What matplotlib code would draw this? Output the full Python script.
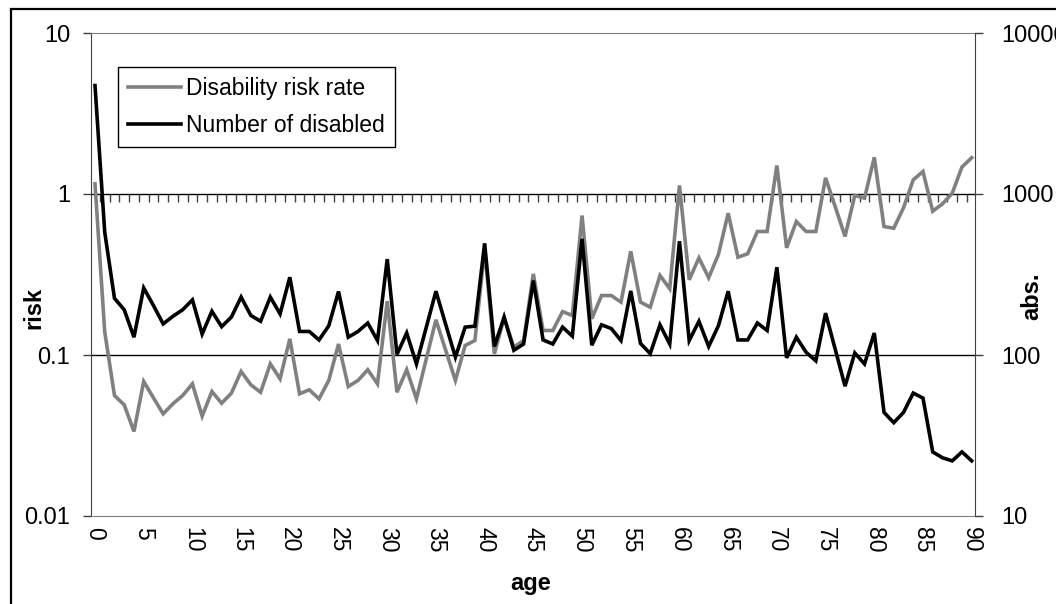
import numpy as np
import matplotlib.pyplot as plt
from matplotlib.patches import Rectangle

plt.rcParams['font.family'] = ['Liberation Sans', 'DejaVu Sans']

# Age 0..90
age = np.arange(0, 91)

# Disability risk rate (left axis)
risk = np.array([1.157, 0.139, 0.056, 0.049, 0.0335, 0.0685, 0.0542, 0.0431, 0.0498, 0.056,
                 0.0662, 0.0417, 0.0593, 0.0502, 0.0579, 0.079, 0.0653, 0.0587, 0.0882, 0.0711,
                 0.126, 0.0574, 0.0608, 0.0534, 0.0695, 0.117, 0.0637, 0.0695, 0.081, 0.0662,
                 0.216, 0.0587, 0.081, 0.0534, 0.094, 0.1655, 0.107, 0.0695, 0.1146, 0.123,
                 0.45, 0.1017, 0.17, 0.112, 0.123, 0.319, 0.142, 0.142, 0.186, 0.176,
                 0.735, 0.168, 0.234, 0.234, 0.213, 0.441, 0.213, 0.198, 0.312, 0.258,
                 1.13, 0.293, 0.401, 0.302, 0.421, 0.760, 0.405, 0.425, 0.585, 0.585,
                 1.503, 0.463, 0.675, 0.585, 0.585, 1.26, 0.83, 0.545, 0.98, 0.942,
                 1.69, 0.628, 0.613, 0.821, 1.225, 1.38, 0.782, 0.869, 1.01, 1.47,
                 1.68])

# Number of disabled (right axis, absolute)
n_disabled = np.array([4720, 579, 225, 191, 129, 261, 203, 156, 174, 191,
                       220, 135, 187, 150, 172, 229, 176, 162, 229, 180,
                       304, 140, 140, 124, 152, 248, 129, 140, 158, 123,
                       394, 101, 137, 88, 148, 249, 155, 97, 149, 151,
                       494, 113, 172, 107, 117, 290, 124, 117, 149, 131,
                       527, 115, 154, 146, 123, 250, 118, 102, 154, 117,
                       509, 123, 162, 113, 152, 249, 124, 124, 158, 142,
                       351, 96, 129, 104, 92, 182, 108, 64, 103, 88,
                       137, 44, 38, 44, 58, 54, 25, 23, 22, 25,
                       22])

xticks = np.arange(0, 91, 5)

W, H = 1056, 604
fig = plt.figure(figsize=(W / 100, H / 100), dpi=100)

# chart border (runs off the right/bottom edge)
fig.patches.append(Rectangle((11 / W, -0.1), 1.2, 1 - 9 / H + 0.1, transform=fig.transFigure,
                             fill=False, edgecolor='black', lw=1.6))

ax = fig.add_axes([91 / W, 1 - 516 / H, (975 - 91) / W, (516 - 33) / H])
ax2 = ax.twinx()

l1, = ax.plot(age, risk, color='#808080', lw=2.6, solid_joinstyle='miter', zorder=3,
              label='Disability risk rate')
l2, = ax2.plot(age, n_disabled, color='black', lw=2.6, solid_joinstyle='miter', zorder=3,
               label='Number of disabled')

ax.set_yscale('log')
ax.set_ylim(0.01, 10)
ax2.set_yscale('log')
ax2.set_ylim(10, 10000)
ax.set_xlim(-0.41, 90.34)

# gridlines; the one at 1 carries the category ticks
ax.axhline(1, color='black', lw=1, zorder=1)
ax.axhline(0.1, color='black', lw=1, zorder=1)
ax.plot(age[:-1] + 0.5, np.ones(len(age) - 1), ls='none', marker=3, ms=5.5, mew=1,
        color='#404040', zorder=1)

ax.set_xticks(xticks)
ax.set_xticklabels([str(t) for t in xticks], rotation=-90)
ax.tick_params(axis='x', length=0, pad=8, labelsize=16.5)
ax.minorticks_off()
ax2.minorticks_off()
ax.set_yticks([0.01, 0.1, 1, 10])
ax.set_yticklabels(['0.01', '0.1', '1', '10'])
ax2.set_yticks([10, 100, 1000, 10000])
ax2.set_yticklabels(['10', '100', '1000', '10000'])
ax.tick_params(axis='y', length=6, width=1, color='#404040', pad=9, labelsize=17)
ax2.tick_params(axis='y', length=6, width=1, color='#404040', pad=13, labelsize=17)

for s in ['top', 'bottom']:
    ax.spines[s].set_color('#808080')
    ax2.spines[s].set_visible(False)
ax.spines['left'].set_color('#404040')
ax.spines['right'].set_visible(False)
ax2.spines['left'].set_visible(False)
ax2.spines['right'].set_color('#404040')

ax.set_xlabel('age', fontsize=17, fontweight='bold')
ax.set_ylabel('risk', fontsize=17, fontweight='bold')
ax2.set_ylabel('abs.', fontsize=17, fontweight='bold')
ax.xaxis.set_label_coords(0.497, -0.116)
ax.yaxis.set_label_coords(-0.052, 0.43)
ax2.yaxis.set_label_coords(1.051, 0.455)

leg = ax2.legend(handles=[l1, l2], loc='upper left', bbox_to_anchor=(118 / W, 1 - 67 / H),
                 bbox_transform=fig.transFigure, borderaxespad=0, fontsize=16.5,
                 handlelength=2.3, handletextpad=0.2, labelspacing=0.6, borderpad=0.45,
                 fancybox=False, framealpha=1)
leg.get_frame().set_edgecolor('black')
leg.get_frame().set_linewidth(1)

plt.savefig('out.png', dpi=100)
